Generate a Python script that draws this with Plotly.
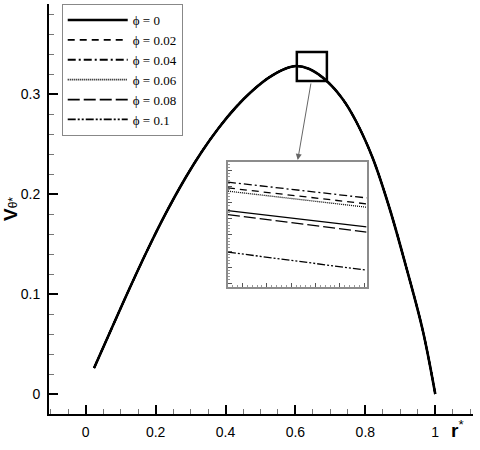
import plotly.graph_objects as go

# main profile (all phi curves overlap at this scale)
r_main = [0.024, 0.076, 0.124, 0.176, 0.229, 0.286, 0.333, 0.381, 0.429, 0.476, 0.524, 0.571,
          0.602, 0.64, 0.688, 0.735, 0.773, 0.821, 0.869, 0.916, 0.964, 1.0]
v_main = [0.026, 0.067, 0.1045, 0.1435, 0.1806, 0.2165, 0.2428, 0.2663, 0.2865, 0.303, 0.3164, 0.3253,
          0.328, 0.325, 0.3135, 0.295, 0.273, 0.236, 0.186, 0.128, 0.064, 0.0]

# zoomed inset values
phi_labels = ["ϕ = 0", "ϕ = 0.02", "ϕ = 0.04", "ϕ = 0.06", "ϕ = 0.08", "ϕ = 0.1"]
r_inset = [0.6494, 0.6551]
v_inset = [
    [0.32251, 0.32150],
    [0.32392, 0.32293],
    [0.32428, 0.32330],
    [0.32372, 0.32272],
    [0.32226, 0.32117],
    [0.31993, 0.31881],
]

dashes = ["solid", "7px,5px", "8px,3px,2px,3px", "1px,1px", "12px,4px", "8px,2px,2px,2px,2px,2px"]
main_w = [2.6, 1.8, 1.8, 1.8, 1.8, 1.8]

fig = go.Figure()
for i in range(len(phi_labels)):
    fig.add_trace(go.Scatter(x=r_main, y=v_main, mode="lines", name=phi_labels[i],
                             line=dict(color="black", width=main_w[i], dash=dashes[i], shape="spline")))
for i in range(len(phi_labels)):
    fig.add_trace(go.Scatter(x=r_inset, y=v_inset[i], mode="lines", showlegend=False,
                             xaxis="x2", yaxis="y2",
                             line=dict(color="black", width=1.3, dash=dashes[i])))

tickfont = dict(family="Liberation Sans, Arial", size=14, color="black")

fig.update_layout(
    width=480, height=450,
    margin=dict(l=49, r=7, t=4, b=36),
    plot_bgcolor="white", paper_bgcolor="white",
    showlegend=True,
    legend=dict(x=0.03, y=1.0, xanchor="left", yanchor="top",
                bordercolor="#888888", borderwidth=1, bgcolor="white",
                font=dict(family="Liberation Serif, DejaVu Serif, serif", size=13, color="black"),
                itemwidth=60, tracegroupgap=0),
    xaxis=dict(range=[-0.105, 1.108], tickvals=[0, 0.2, 0.4, 0.6, 0.8, 1],
               ticktext=["0", "0.2", "0.4", "0.6", "0.8", "1"], automargin=False,
               ticks="inside", ticklen=9, tickwidth=2, tickcolor="black",
               minor=dict(dtick=0.05, ticks="inside", ticklen=5, tickwidth=1, tickcolor="#777777"),
               showline=True, linecolor="black", linewidth=2, showgrid=False, zeroline=False,
               tickfont=tickfont, ticklabelstandoff=4),
    yaxis=dict(range=[-0.02, 0.39], tickvals=[0, 0.1, 0.2, 0.3],
               ticktext=["0", "0.1", "0.2", "0.3"], automargin=False,
               ticks="inside", ticklen=9, tickwidth=2, tickcolor="black",
               minor=dict(dtick=0.02, ticks="inside", ticklen=5, tickwidth=1, tickcolor="#777777"),
               showline=True, linecolor="black", linewidth=2, showgrid=False, zeroline=False,
               tickfont=tickfont, ticklabelstandoff=4,
               title=dict(text="<b>V</b><span style='font-size:12px'>θ*</span>",
                          font=dict(family="Liberation Sans, Arial", size=19, color="black"),
                          standoff=4)),
    xaxis2=dict(domain=[0.422, 0.749], anchor="y2", range=[0.6494, 0.6551], dtick=0.001,
                ticks="inside", ticklen=4, tickcolor="#555555", showticklabels=False,
                minor=dict(dtick=0.0002, ticks="inside", ticklen=2, tickcolor="#999999"),
                showline=True, mirror=True, linecolor="#8c8c8c", linewidth=1.5,
                showgrid=False, zeroline=False, automargin=False),
    yaxis2=dict(domain=[0.310, 0.615], anchor="x2", range=[0.31777, 0.32554], dtick=0.001,
                ticks="inside", ticklen=4, tickcolor="#555555", showticklabels=False,
                minor=dict(dtick=0.0002, ticks="inside", ticklen=2, tickcolor="#999999"),
                showline=True, mirror=True, linecolor="#8c8c8c", linewidth=1.5,
                showgrid=False, zeroline=False, automargin=False),
)

# zoom window and arrow to inset
fig.add_shape(type="rect", xref="x", yref="y", x0=0.604, x1=0.690, y0=0.313, y1=0.342,
              line=dict(color="black", width=2.5))
fig.add_annotation(x=0.6066, y=0.234, ax=0.645, ay=0.312, xref="x", yref="y",
                   axref="x", ayref="y", text="", showarrow=True, arrowhead=2,
                   arrowsize=1.2, arrowwidth=1, arrowcolor="#666666", standoff=0)

fig.add_annotation(x=(466 - 49) / 424, y=(414 - 443) / 410, xref="paper", yref="paper",
                   text="<b>r</b><sup>*</sup>", showarrow=False,
                   font=dict(family="Liberation Sans, Arial", size=19, color="black"))

# page body has a default margin; drop it so the figure sits at the window origin
fig.write_html("out.html", config={"displayModeBar": False},
               post_script="document.body.style.margin='0px';")
